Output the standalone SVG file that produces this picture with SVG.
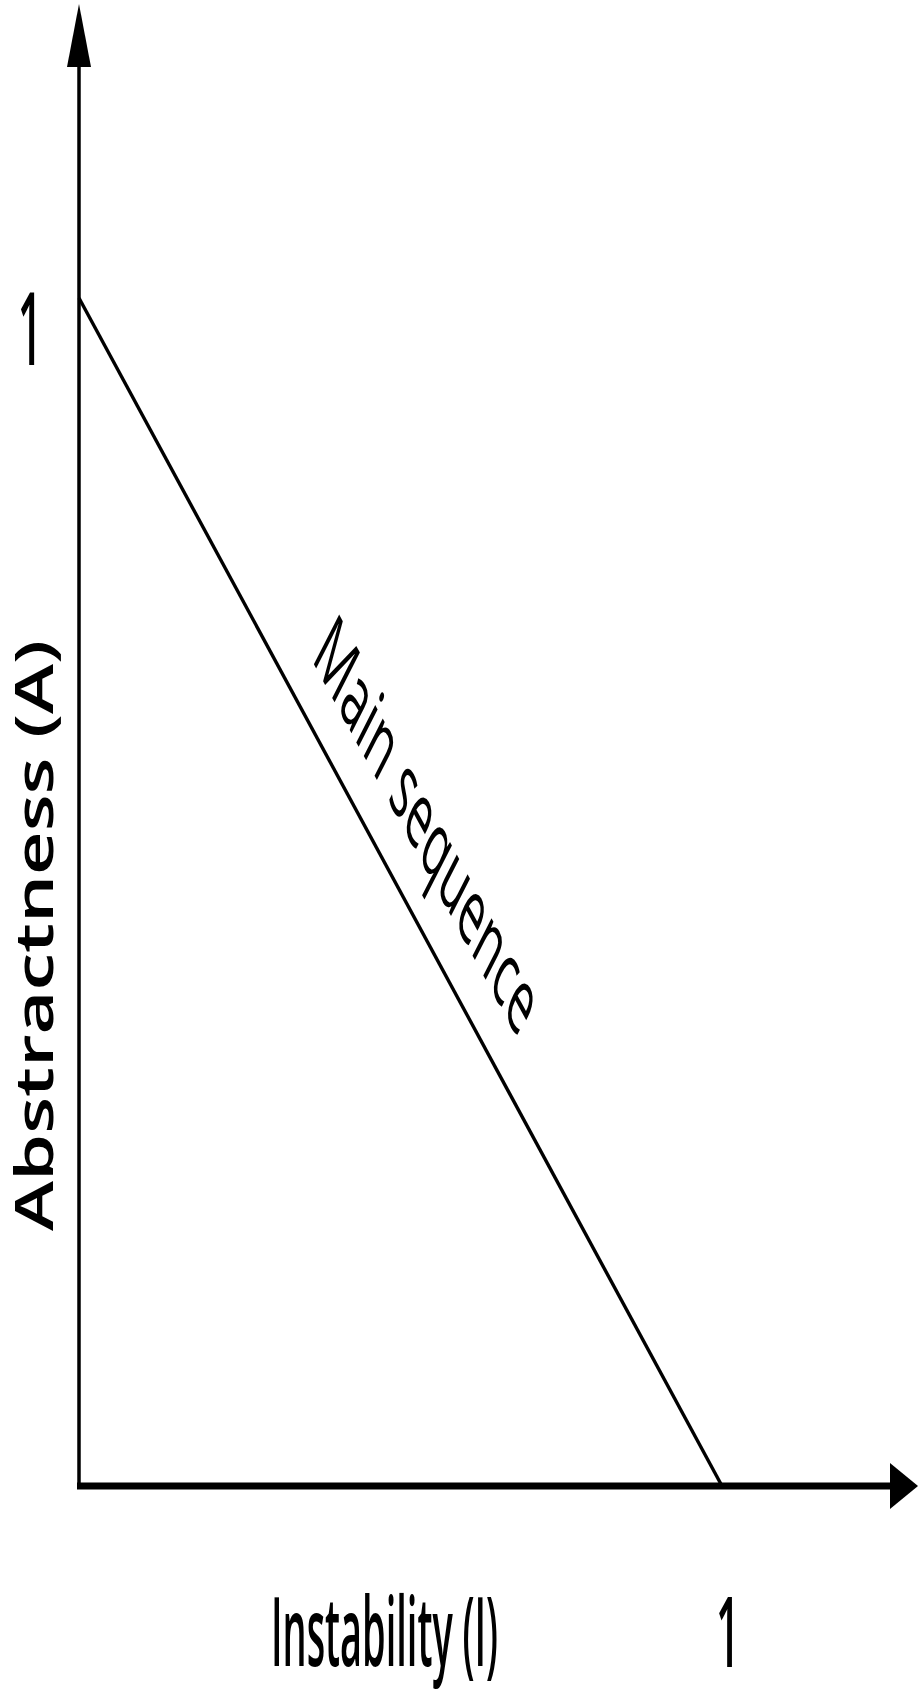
<svg xmlns="http://www.w3.org/2000/svg" width="918" height="1694" viewBox="0 0 918 1694">
  <style>
    .ax { stroke: #000; fill: none; }
    .head { fill: #000; stroke: none; }
    .lbl { font-family: "Open Sans", "DejaVu Sans", sans-serif; fill: #000; }
  </style>
  <rect width="918" height="1694" fill="#fff"/>
  <g id="connectors">
    <line id="y-axis" class="ax" x1="79" y1="60" x2="79" y2="1489" stroke-width="3.5"/>
    <polygon class="head" points="79,4 67,67 91,67"/>
    <line id="x-axis" class="ax" x1="77" y1="1486" x2="893" y2="1486" stroke-width="7"/>
    <polygon class="head" points="918,1486 890,1463 890,1509"/>
    <line id="main-sequence-line" class="ax" x1="79" y1="298" x2="722" y2="1486" stroke-width="3.4"/>
  </g>
  <g id="label-y-one">
    <text class="lbl" font-size="102" font-weight="600" text-anchor="middle" transform="translate(30,365) scale(0.42,1)">1</text>
  </g>
  <g id="label-x-one">
    <text class="lbl" font-size="97" font-weight="600" text-anchor="middle" transform="translate(728,1667) scale(0.43,1)">1</text>
  </g>
  <g id="label-abstractness">
    <text class="lbl" font-size="52" font-weight="600" transform="translate(53,1231) rotate(-90)" textLength="591" lengthAdjust="spacingAndGlyphs">Abstractness (A)</text>
  </g>
  <g id="label-instability">
    <text class="lbl" font-size="96" font-weight="600" transform="translate(271,1666) scale(0.395,1)">Instability (I)</text>
  </g>
  <g id="label-main-sequence">
    <text class="lbl" font-size="51" font-weight="500" transform="matrix(0.719 1.320 -0.695 1.367 311 659)" textLength="289" lengthAdjust="spacingAndGlyphs">Main sequence</text>
  </g>
</svg>
